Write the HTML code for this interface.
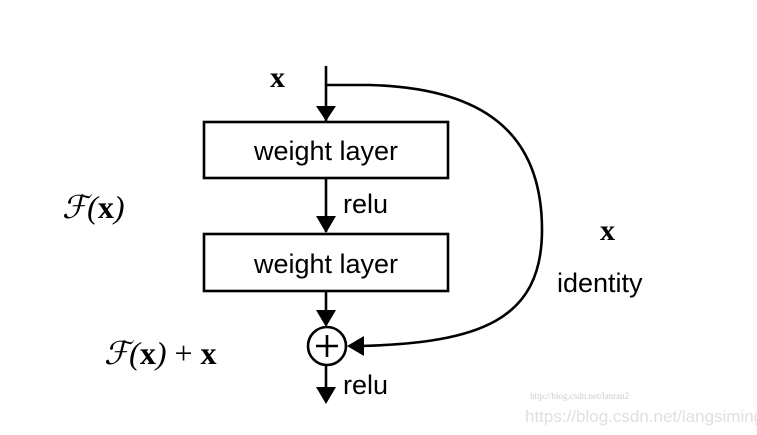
<!DOCTYPE html>
<html><head><meta charset="utf-8"><style>
html,body{margin:0;padding:0;background:#fff;}
svg{display:block}
</style></head><body>
<svg width="757" height="435" viewBox="0 0 757 435" xmlns="http://www.w3.org/2000/svg">
<defs><marker id="a" markerWidth="10" markerHeight="10" refX="9" refY="5" orient="auto" markerUnits="userSpaceOnUse"><path d="M0,0 L10,5 L0,10 z" fill="#000"/></marker></defs>
<g stroke="#000" stroke-width="2.6" fill="none">
<line x1="326" y1="66" x2="326" y2="121" marker-end="url(#a)" transform="scale(1)"/>
<rect x="204" y="122" width="244" height="56" fill="#fff"/>
<line x1="326" y1="178" x2="326" y2="232"/>
<rect x="204" y="234" width="244" height="57" fill="#fff"/>
<line x1="326" y1="291" x2="326" y2="324"/>
<circle cx="327" cy="346" r="19"/>
<line x1="327" y1="335" x2="327" y2="357"/>
<line x1="316" y1="346" x2="338" y2="346"/>
<line x1="326" y1="365" x2="326" y2="398"/>
<path d="M327,85 L370,85 C480,88 542,130 542,230 C542,320 480,343 360,346"/>
</g>
<g fill="#000">
<path d="M316,106 L336,106 L326,121 z"/>
<path d="M316,216 L336,216 L326,233 z"/>
<path d="M316,310 L336,310 L326,327 z"/>
<path d="M316,387 L336,387 L326,404 z"/>
<path d="M364,336 L364,356 L347,346 z"/>
</g>
<g font-family="Liberation Sans, sans-serif" font-size="27" fill="#000">
<text x="326" y="160" text-anchor="middle">weight layer</text>
<text x="326" y="273" text-anchor="middle">weight layer</text>
<text x="343" y="213">relu</text>
<text x="343" y="394">relu</text>
<text x="557" y="292">identity</text>
</g>
<g font-family="Liberation Serif, serif" fill="#000">
<text x="270" y="87" font-size="30" font-weight="bold">x</text>
<text x="600" y="240" font-size="30" font-weight="bold">x</text>
<text x="62" y="218" font-size="32" font-style="italic">ℱ(<tspan font-weight="bold" font-style="normal">x</tspan>)</text>
<text x="104" y="364" font-size="32" font-style="italic">ℱ(<tspan font-weight="bold" font-style="normal">x</tspan>) <tspan font-style="normal">+</tspan> <tspan font-weight="bold" font-style="normal">x</tspan></text>
</g>
<text x="530" y="399" font-family="Liberation Serif, serif" font-size="9" fill="#ccc">http://blog.csdn.net/lanran2</text>
<text x="525" y="422" font-family="Liberation Sans, sans-serif" font-size="17" fill="#e0e0e0">https://blog.csdn.net/langsiming</text>
</svg>
</body></html>
